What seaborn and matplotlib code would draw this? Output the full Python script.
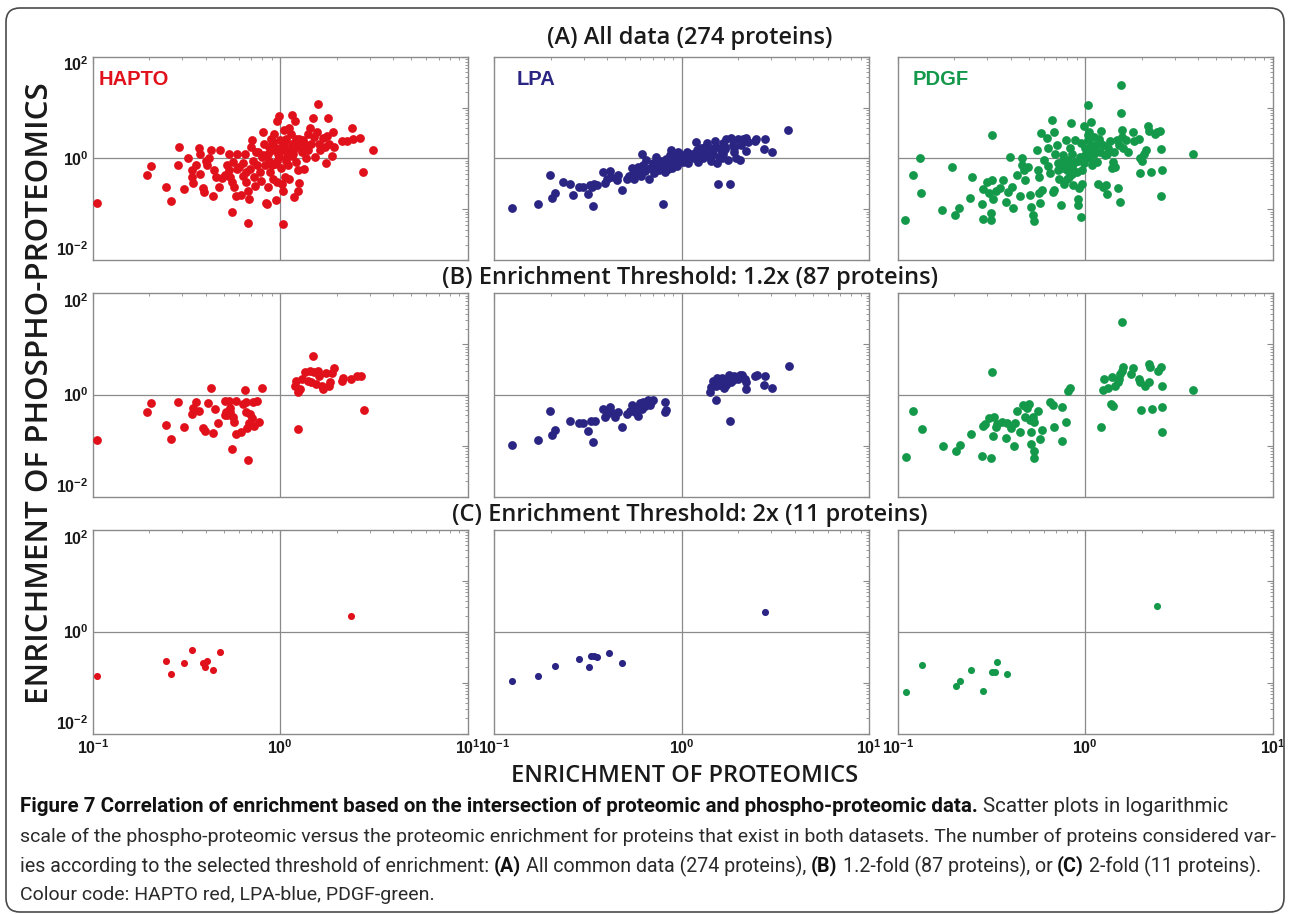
import numpy as np
import pandas as pd
import matplotlib
matplotlib.use("Agg")
import matplotlib.pyplot as plt
from matplotlib.patches import FancyBboxPatch
from matplotlib.transforms import IdentityTransform
from matplotlib.ticker import FixedLocator, LogLocator, NullFormatter
import seaborn as sns

# (proteomic enrichment, phospho-proteomic enrichment)
hapto_all = [
    (0.105, 0.133), (0.194, 0.48), (0.204, 0.72), (0.245, 0.27), (0.26, 0.144), (0.29, 1.67), (0.284, 0.75), (0.307, 0.25), (0.324, 1.03), (0.34, 0.58),
    (0.34, 0.44), (0.344, 0.33), (0.354, 0.75), (0.37, 1.6), (0.373, 1.2), (0.373, 0.5), (0.386, 0.264), (0.39, 0.217), (0.4, 0.885), (0.405, 0.73),
    (0.417, 1.03), (0.43, 1.48), (0.436, 0.18), (0.444, 0.58), (0.455, 0.43), (0.47, 0.28), (0.48, 1.48), (0.49, 0.415), (0.508, 0.48), (0.52, 0.76),
    (0.53, 1.24), (0.54, 0.44), (0.55, 0.34), (0.55, 0.087), (0.56, 0.87), (0.57, 0.27), (0.58, 0.18), (0.586, 1.2), (0.605, 0.67), (0.616, 0.195),
    (0.637, 0.46), (0.637, 0.81), (0.65, 1.2), (0.66, 0.34), (0.67, 0.055), (0.676, 0.233), (0.68, 0.16), (0.69, 0.625), (0.7, 1.67), (0.705, 2.26),
    (0.713, 0.91), (0.725, 0.43), (0.734, 0.29), (0.75, 0.76), (0.766, 1.33), (0.78, 0.54), (0.787, 0.36), (0.8, 1.06), (0.813, 3.3), (0.82, 1.95),
    (0.83, 0.73), (0.84, 0.131), (0.847, 0.13), (0.857, 0.27), (0.875, 0.91), (0.883, 0.54), (0.89, 2.44), (0.9, 1.44), (0.91, 0.4), (0.927, 2.98),
    (0.94, 0.785), (0.95, 0.153), (0.957, 5.46), (0.966, 0.34), (0.977, 1.24), (0.99, 6.75), (1.0, 2.26), (1.005, 0.65), (1.02, 1.67), (1.02, 0.316),
    (1.03, 0.051), (1.03, 0.233), (1.047, 3.57), (1.06, 0.43), (1.074, 1.03), (1.08, 2.44), (1.096, 1.44), (1.1, 0.73), (1.12, 0.4), (1.14, 3.07),
    (1.15, 7.06), (1.16, 1.95), (1.175, 1.24), (1.19, 0.173), (1.2, 5.46), (1.21, 0.85), (1.22, 2.44), (1.24, 0.233), (1.25, 0.58), (1.26, 0.325),
    (1.27, 1.67), (1.3, 1.33), (1.33, 2.26), (1.34, 0.625), (1.37, 1.03), (1.4, 3.07), (1.41, 1.48), (1.44, 3.97), (1.46, 1.89), (1.49, 6.35),
    (1.51, 2.64), (1.53, 1.06), (1.57, 3.3), (1.585, 11.5), (1.62, 1.89), (1.64, 1.44), (1.69, 2.56), (1.73, 1.67), (1.75, 0.81), (1.77, 2.72),
    (1.79, 6.35), (1.83, 1.95), (1.88, 1.1), (1.92, 3.3), (1.94, 1.67), (2.13, 2.2), (2.26, 2.2), (2.41, 4.0), (2.45, 2.44), (2.67, 2.52),
    (2.78, 0.54), (3.14, 1.48), (0.87, 1.67), (0.92, 2.1), (1.03, 1.44), (0.966, 0.91), (1.15, 1.1), (1.26, 2.44), (0.66, 0.54), (0.53, 0.58),
    (0.586, 0.625), (0.813, 1.15), (1.12, 4.0), (1.37, 1.8), (0.74, 1.35), (0.86, 1.2), (0.95, 1.6), (1.05, 1.9), (1.1, 1.25), (1.18, 1.55),
    (0.98, 1.05), (0.9, 0.75), (1.25, 1.95), (1.07, 0.9),
]
hapto_b = [
    (0.105, 0.13), (0.194, 0.47), (0.204, 0.685), (0.245, 0.26), (0.26, 0.138), (0.284, 0.72), (0.307, 0.238), (0.34, 0.42), (0.344, 0.55), (0.354, 0.72),
    (0.37, 0.49), (0.386, 0.23), (0.395, 0.193), (0.414, 0.685), (0.43, 1.37), (0.436, 0.176), (0.45, 0.53), (0.468, 0.277), (0.508, 0.77), (0.513, 0.47),
    (0.52, 0.4), (0.535, 0.77), (0.54, 0.46), (0.55, 0.087), (0.56, 0.375), (0.57, 0.29), (0.58, 0.77), (0.58, 0.17), (0.616, 0.185), (0.63, 0.665),
    (0.65, 1.27), (0.655, 0.47), (0.66, 0.72), (0.665, 0.23), (0.67, 0.053), (0.68, 0.28), (0.69, 0.42), (0.705, 0.35), (0.713, 0.72), (0.725, 0.25),
    (0.75, 0.77), (0.77, 0.30), (0.8, 1.35), (0.508, 0.4), (0.54, 0.55),
    (1.2, 1.48), (1.22, 1.91), (1.24, 1.16), (1.27, 1.31), (1.3, 2.06), (1.24, 0.214), (1.36, 2.88), (1.4, 1.91), (1.44, 3.01), (1.49, 5.94),
    (1.46, 1.78), (1.51, 2.8), (1.56, 1.64), (1.59, 3.0), (1.62, 2.4), (1.67, 1.53), (1.7, 1.31), (1.76, 2.71), (1.82, 1.53), (1.85, 1.78),
    (1.88, 2.71), (1.94, 3.35), (2.13, 1.91), (2.16, 2.16), (2.38, 2.06), (2.58, 2.4), (2.7, 2.4), (2.8, 0.51),
]
hapto_c = [
    (0.105, 0.134), (0.245, 0.27), (0.262, 0.145), (0.307, 0.245), (0.34, 0.44), (0.386, 0.245),
    (0.397, 0.2), (0.405, 0.27), (0.436, 0.18), (0.48, 0.395), (2.39, 2.05),
]

lpa_all = [
    (0.124, 0.107), (0.17, 0.128), (0.198, 0.48), (0.202, 0.168), (0.211, 0.205), (0.232, 0.35), (0.253, 0.31), (0.264, 0.19), (0.284, 0.277), (0.298, 0.277),
    (0.317, 0.196), (0.324, 0.3), (0.334, 0.117), (0.34, 0.32), (0.351, 0.3), (0.381, 0.53), (0.389, 0.33), (0.4, 0.4), (0.414, 0.56), (0.42, 0.435),
    (0.449, 0.375), (0.458, 0.47), (0.477, 0.238), (0.512, 0.386), (0.525, 0.46), (0.54, 0.635), (0.555, 0.4), (0.574, 0.53), (0.586, 0.685), (0.603, 0.46),
    (0.61, 1.25), (0.622, 0.74), (0.635, 0.56), (0.648, 0.93), (0.67, 0.4), (0.68, 0.655), (0.698, 0.82), (0.71, 0.51), (0.727, 1.08), (0.74, 0.72),
    (0.757, 0.59), (0.77, 0.89), (0.79, 0.13), (0.796, 0.685), (0.81, 0.53), (0.828, 0.97), (0.845, 0.76), (0.863, 1.16), (0.874, 1.46), (0.892, 0.635),
    (0.906, 0.86), (0.93, 1.08), (0.944, 0.72), (0.968, 0.93), (0.984, 1.2), (1.016, 0.86), (1.04, 1.08), (1.06, 1.35), (1.08, 0.8), (1.1, 1.0),
    (1.13, 1.25), (1.16, 1.03), (1.19, 2.06), (1.2, 1.46), (1.22, 0.86), (1.25, 1.16), (1.27, 1.57), (1.3, 1.0), (1.34, 1.35), (1.36, 1.97),
    (1.38, 1.13), (1.41, 1.57), (1.44, 0.89), (1.47, 1.25), (1.5, 2.19), (1.53, 1.7), (1.54, 0.8), (1.56, 0.32), (1.58, 1.08), (1.61, 1.46),
    (1.65, 1.97), (1.66, 1.25), (1.69, 1.7), (1.73, 2.4), (1.77, 0.93), (1.8, 0.32), (1.84, 2.55), (1.88, 1.83), (1.91, 1.35), (1.95, 1.0),
    (2.0, 2.4), (2.04, 0.93), (2.08, 1.83), (2.12, 2.4), (2.19, 2.55), (2.21, 1.39), (2.25, 2.06), (2.45, 2.19), (2.5, 2.4), (2.73, 1.53),
    (2.77, 2.4), (3.04, 1.35), (3.68, 3.61), (0.735, 0.86), (0.845, 0.62), (0.955, 1.35), (1.33, 1.7), (1.63, 1.0), (0.55, 0.5), (0.33, 0.277),
    (0.62, 0.6), (0.7, 0.7), (0.78, 0.78), (0.88, 0.95), (1.0, 1.05), (1.12, 1.15), (1.22, 1.3), (1.45, 1.4), (1.7, 1.5), (1.9, 1.6),
]
lpa_b = [
    (0.124, 0.105), (0.17, 0.13), (0.198, 0.48), (0.202, 0.166), (0.211, 0.205), (0.253, 0.313), (0.284, 0.277), (0.298, 0.277), (0.317, 0.2), (0.327, 0.303),
    (0.334, 0.117), (0.344, 0.313), (0.379, 0.53), (0.389, 0.364), (0.397, 0.42), (0.414, 0.57), (0.42, 0.456), (0.44, 0.375), (0.458, 0.47), (0.477, 0.238),
    (0.512, 0.42), (0.528, 0.49), (0.54, 0.645), (0.562, 0.456), (0.574, 0.57), (0.586, 0.39), (0.597, 0.696), (0.61, 0.53), (0.622, 0.74), (0.635, 0.6),
    (0.648, 0.665), (0.662, 0.81), (0.675, 0.635), (0.689, 0.72), (0.698, 0.81), (0.81, 0.74), (0.81, 0.456), (0.828, 0.515), (0.55, 0.54),
    (1.42, 1.16), (1.44, 1.42), (1.46, 1.91), (1.52, 0.81), (1.53, 1.53), (1.54, 2.13), (1.59, 1.57), (1.63, 2.13), (1.67, 1.35), (1.73, 1.57),
    (1.76, 1.91), (1.79, 2.47), (1.8, 0.313), (1.84, 1.8), (1.88, 2.0), (1.91, 2.4), (2.0, 2.06), (2.04, 2.47), (2.1, 2.47), (2.16, 2.06),
    (2.19, 1.31), (2.21, 1.8), (2.45, 2.33), (2.52, 2.47), (2.77, 2.33), (2.73, 1.57), (3.04, 1.35), (3.71, 3.66),
]
lpa_c = [
    (0.124, 0.109), (0.17, 0.133), (0.212, 0.216), (0.282, 0.29), (0.32, 0.206), (0.328, 0.338),
    (0.34, 0.338), (0.354, 0.323), (0.407, 0.382), (0.477, 0.247), (2.79, 2.39),
]

pdgf_all = [
    (0.11, 0.061), (0.12, 0.47), (0.132, 1.03), (0.133, 0.214), (0.173, 0.096), (0.196, 0.685), (0.202, 0.079), (0.213, 0.104), (0.244, 0.168), (0.248, 0.436),
    (0.28, 0.128), (0.284, 0.066), (0.286, 0.25), (0.298, 0.35), (0.305, 0.205), (0.315, 0.085), (0.315, 0.061), (0.318, 2.88), (0.32, 0.375), (0.324, 0.163),
    (0.334, 0.228), (0.352, 0.257), (0.366, 0.375), (0.377, 0.14), (0.386, 0.221), (0.398, 1.08), (0.406, 0.277), (0.414, 0.104), (0.431, 0.47), (0.45, 0.184),
    (0.459, 1.03), (0.463, 0.74), (0.474, 0.59), (0.48, 0.375), (0.494, 0.685), (0.508, 0.19), (0.515, 0.112), (0.524, 0.077), (0.53, 0.058), (0.552, 1.46),
    (0.558, 0.59), (0.564, 0.205), (0.567, 0.436), (0.575, 0.136), (0.582, 3.1), (0.587, 0.238), (0.6, 0.93), (0.624, 2.55), (0.632, 0.72), (0.637, 1.57),
    (0.65, 0.51), (0.664, 5.68), (0.678, 3.35), (0.67, 0.22), (0.685, 0.238), (0.692, 1.25), (0.706, 1.83), (0.715, 0.8), (0.726, 0.39), (0.745, 0.124),
    (0.75, 0.635), (0.766, 1.16), (0.775, 0.32), (0.789, 2.3), (0.8, 0.59), (0.808, 0.93), (0.82, 0.436), (0.832, 1.57), (0.84, 4.88), (0.848, 0.685),
    (0.866, 0.3), (0.877, 0.86), (0.885, 2.3), (0.903, 0.55), (0.914, 0.163), (0.92, 0.121), (0.929, 0.257), (0.94, 1.08), (0.952, 0.071), (0.96, 0.59),
    (0.967, 0.32), (0.98, 4.39), (0.99, 0.8), (1.0, 1.57), (1.02, 1.25), (1.03, 11.2), (1.04, 2.3), (1.05, 3.35), (1.06, 1.0), (1.08, 5.1),
    (1.085, 1.57), (1.09, 0.74), (1.11, 2.67), (1.12, 1.25), (1.14, 1.83), (1.15, 0.86), (1.17, 0.32), (1.19, 2.4), (1.2, 1.35), (1.22, 3.45),
    (1.24, 0.277), (1.25, 1.88), (1.27, 1.16), (1.29, 0.3), (1.31, 0.196), (1.33, 1.57), (1.36, 2.19), (1.39, 0.635), (1.4, 0.86), (1.43, 1.35),
    (1.45, 0.685), (1.48, 2.3), (1.5, 0.257), (1.52, 1.88), (1.54, 0.14), (1.56, 27.7), (1.56, 7.67), (1.57, 3.61), (1.58, 2.67), (1.6, 1.57),
    (1.65, 2.3), (1.69, 1.35), (1.79, 3.35), (1.83, 2.19), (1.93, 2.4), (1.97, 1.03), (1.97, 0.51), (2.0, 0.89), (2.05, 1.25), (2.1, 1.46),
    (2.16, 4.39), (2.2, 3.45), (2.25, 0.547), (2.36, 2.97), (2.41, 3.24), (2.52, 3.45), (2.54, 1.53), (2.57, 0.59), (2.54, 0.184), (3.74, 1.25),
    (0.75, 0.86), (0.848, 1.25), (0.8, 0.4), (1.04, 2.88), (1.11, 1.57), (0.72, 0.6), (0.82, 0.7), (0.92, 0.9), (1.0, 1.15), (1.1, 1.4),
    (1.2, 2.0), (1.3, 1.25), (0.95, 2.0), (1.08, 1.8), (0.85, 0.5),
]
pdgf_b = [
    (0.111, 0.061), (0.12, 0.48), (0.134, 0.214), (0.175, 0.098), (0.204, 0.08), (0.215, 0.104), (0.246, 0.171), (0.283, 0.064), (0.286, 0.25), (0.292, 0.27),
    (0.305, 0.348), (0.315, 0.059), (0.32, 2.88), (0.322, 0.158), (0.327, 0.375), (0.334, 0.231), (0.337, 0.27), (0.362, 0.29), (0.38, 0.14), (0.385, 0.277),
    (0.4, 0.221), (0.418, 0.1), (0.42, 0.277), (0.434, 0.48), (0.45, 0.184), (0.467, 0.645), (0.48, 0.364), (0.48, 0.6), (0.5, 0.665), (0.506, 0.327),
    (0.513, 0.184), (0.516, 0.109), (0.528, 0.364), (0.532, 0.3), (0.534, 0.08), (0.536, 0.059), (0.563, 0.48), (0.573, 0.136), (0.587, 0.208), (0.647, 0.74),
    (0.67, 0.635), (0.68, 0.231), (0.75, 0.59), (0.755, 0.126), (0.79, 0.29), (0.805, 1.22), (0.83, 1.37), (0.492, 0.55),
    (1.21, 0.231), (1.24, 1.27), (1.26, 2.06), (1.33, 1.35), (1.37, 0.665), (1.39, 2.22), (1.41, 0.615), (1.45, 1.53), (1.49, 1.78), (1.52, 2.06),
    (1.53, 2.59), (1.57, 3.0), (1.58, 26.9), (1.6, 3.5), (1.75, 2.59), (1.8, 3.35), (1.93, 2.06), (1.96, 1.83), (1.98, 0.51), (2.09, 1.53),
    (2.18, 1.83), (2.2, 4.07), (2.21, 3.5), (2.27, 0.53), (2.43, 3.0), (2.53, 3.5), (2.56, 1.53), (2.56, 0.57), (2.56, 0.19), (3.77, 1.27),
]
pdgf_c = [
    (0.111, 0.065), (0.134, 0.222), (0.205, 0.084), (0.215, 0.108), (0.246, 0.177), (0.285, 0.067),
    (0.318, 0.164), (0.33, 0.164), (0.337, 0.258), (0.385, 0.148), (2.41, 3.14),
]

treatments = ["HAPTO", "LPA", "PDGF"]
treatment_colors = ["#e0111b", "#2a2482", "#14984a"]
row_titles = [
    "(A) All data (274 proteins)",
    "(B) Enrichment Threshold: 1.2x (87 proteins)",
    "(C) Enrichment Threshold: 2x (11 proteins)",
]
panels = [
    [hapto_all, lpa_all, pdgf_all],
    [hapto_b, lpa_b, pdgf_b],
    [hapto_c, lpa_c, pdgf_c],
]

sns.set_style("white")
plt.rcParams["font.family"] = ["Open Sans", "DejaVu Sans"]
plt.rcParams["mathtext.fontset"] = "custom"
plt.rcParams["mathtext.bf"] = "Liberation Sans:bold"
plt.rcParams["mathtext.rm"] = "Liberation Sans"

W, H = 1290, 914
fig = plt.figure(figsize=(W / 100, H / 100), dpi=100)

col_left = [92.7, 494.3, 897.7]   # px
col_width = 375
row_top = [56.7, 293.3, 530]      # px
row_height = 203.5
marker_size = [40, 40, 26]
grey = "#8a8a8a"

for r in range(3):
    for c in range(3):
        ax = fig.add_axes([col_left[c] / W, 1 - (row_top[r] + row_height) / H,
                           col_width / W, row_height / H])
        df = pd.DataFrame(panels[r][c], columns=["proteomic", "phospho"])
        ax.axvline(1, color=grey, lw=0.9, zorder=0)
        ax.axhline(1, color=grey, lw=0.9, zorder=0)
        sns.scatterplot(data=df, x="proteomic", y="phospho", color=treatment_colors[c],
                        s=marker_size[r], linewidth=0, alpha=1, ax=ax, legend=False, zorder=3)
        ax.set_xscale("log")
        ax.set_yscale("log")
        ax.set_xlim(0.1, 10)
        ax.set_ylim(0.01, 100)
        ax.set_xlabel("")
        ax.set_ylabel("")

        ax.xaxis.set_major_locator(FixedLocator([0.1, 1, 10]))
        ax.yaxis.set_major_locator(FixedLocator([0.01, 0.1, 1, 10, 100]))
        ax.xaxis.set_minor_locator(LogLocator(base=10, subs=np.arange(2, 10)))
        ax.yaxis.set_minor_locator(LogLocator(base=10, subs=np.arange(2, 10)))
        ax.xaxis.set_minor_formatter(NullFormatter())
        ax.yaxis.set_minor_formatter(NullFormatter())
        ax.tick_params(which="both", direction="in", top=True, right=True,
                       color=grey, labelsize=11.5, labelcolor="#1a1a1a")
        ax.tick_params(which="major", length=4, width=0.8)
        ax.tick_params(which="minor", length=2.2, width=0.6)
        ax.tick_params(axis="y", pad=3)
        ax.tick_params(axis="x", pad=4)

        if c == 0:
            ax.set_yticklabels([r"$\mathbf{10^{-2}}$", "", r"$\mathbf{10^{0}}$", "", r"$\mathbf{10^{2}}$"])
            ylabs = ax.get_yticklabels()
            ylabs[0].set_verticalalignment("bottom")   # end labels sit inside the box, as in the source
            ylabs[-1].set_verticalalignment("top")
        else:
            ax.set_yticklabels([])
        if r == 2:
            ax.set_xticklabels([r"$\mathbf{10^{-1}}$", r"$\mathbf{10^{0}}$", r"$\mathbf{10^{1}}$"])
        else:
            ax.set_xticklabels([])

        for sp in ax.spines.values():
            sp.set_color(grey)
            sp.set_linewidth(1.0)

        if r == 0:
            ax.text([0.015, 0.06, 0.04][c], 0.89, treatments[c], transform=ax.transAxes,
                    color=treatment_colors[c], fontsize=14.5, fontweight="bold",
                    family=["Liberation Sans", "DejaVu Sans"], va="center", ha="left")

# row titles
for title, y in zip(row_titles, [38, 278, 515]):
    fig.text(690 / W, 1 - y / H, title, ha="center", va="center", fontsize=17,
             fontweight="semibold", color="#1a1a1a")

fig.text(40 / W, 1 - 393 / H, "ENRICHMENT OF PHOSPHO-PROTEOMICS", rotation=90,
         ha="center", va="center", fontsize=22.5, fontweight="semibold", color="#1a1a1a")
fig.text(685 / W, 1 - 776 / H, "ENRICHMENT OF PROTEOMICS",
         ha="center", va="center", fontsize=17, fontweight="semibold", color="#1a1a1a")

# caption, drawn piece by piece so bold and regular runs can sit on one line
renderer = fig.canvas.get_renderer()
cap_font = ["Roboto", "DejaVu Sans"]


def text_width(s, size, weight):
    t = fig.text(0, 0, s, fontsize=size, fontweight=weight, family=cap_font)
    w = t.get_window_extent(renderer).width
    t.remove()
    return w


def caption_line(pieces, y_px, width_px=None, size=12.5, x_px=20):
    def total(sz):
        gap = text_width("x x", sz, "normal") - text_width("xx", sz, "normal")
        ws = [text_width(s, sz, w) for s, w in pieces]
        return sum(ws) + gap * (len(pieces) - 1), ws, gap

    if width_px is not None:
        tw, _, _ = total(size)
        size = size * width_px / tw
    _, ws, gap = total(size)
    x = x_px
    for (s, w), wd in zip(pieces, ws):
        fig.text(x / W, 1 - y_px / H, s, fontsize=size, fontweight=w, family=cap_font,
                 va="center", ha="left", color="#111111" if w == "bold" else "#2a2a2a")
        x += wd + gap
    return size


caption_line([("Figure 7 Correlation of enrichment based on the intersection of proteomic and phospho-proteomic data.", "bold"),
              ("Scatter plots in logarithmic", "normal")], 807, width_px=1208)
size2 = caption_line([("scale of the phospho-proteomic versus the proteomic enrichment for proteins that exist in both datasets. "
                       "The number of proteins considered var-", "normal")], 837, width_px=1248)
caption_line([("ies according to the selected threshold of enrichment:", "normal"), ("(A)", "bold"),
              ("All common data (274 proteins),", "normal"), ("(B)", "bold"),
              ("1.2-fold (87 proteins), or", "normal"), ("(C)", "bold"),
              ("2-fold (11 proteins).", "normal")], 866, width_px=1242)
caption_line([("Colour code: HAPTO red, LPA-blue, PDGF-green.", "normal")], 895, size=size2)

# rounded frame around the whole figure
frame = FancyBboxPatch((6, 2), 1278, 904, boxstyle="round,pad=0,rounding_size=14",
                       transform=IdentityTransform(), fill=False, edgecolor="#4a4a4a", linewidth=1.2)
fig.patches.append(frame)

fig.savefig("out.png", dpi=100)
